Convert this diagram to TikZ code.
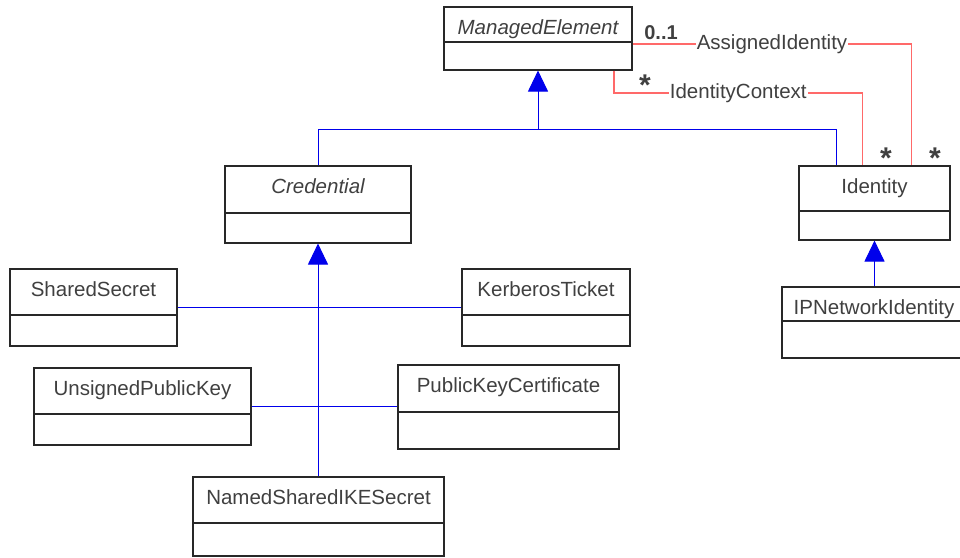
\documentclass[tikz,border=0pt]{standalone}
\usepackage{fontspec}
\setmainfont{Liberation Sans}
\usepackage{tikz}
\usetikzlibrary{arrows.meta, positioning, fit}
\definecolor{umlgray}{RGB}{64, 64, 64}
\definecolor{umlline}{RGB}{40, 40, 40}
\definecolor{umlblue}{RGB}{0, 0, 235}
\definecolor{umlred}{RGB}{255, 105, 105}

\tikzset{
    classbox/.style={draw=umlline, line width=1.1pt, inner sep=0pt},
    classline/.style={umlline, line width=1.1pt},
    classname/.style={text=umlgray, inner sep=0pt, anchor=base, font=\fontsize{20.5}{24}\selectfont},
    genline/.style={umlblue, line width=1pt},
    genarrow/.style={-{Triangle[width=20pt, length=21pt]}},
    assoc/.style={umlred, line width=1.3pt},
    assoclabel/.style={fill=white, text=umlgray, inner sep=1pt, font=\fontsize{20.5}{24}\selectfont},
    mult/.style={text=umlgray, inner sep=0pt, font=\fontsize{20}{24}\selectfont\bfseries},
    multstar/.style={text=umlgray, inner sep=0pt, anchor=base, font=\fontsize{30}{30}\selectfont\bfseries}
}

\newcommand{\umlclass}[7]{%
    \node[classbox, fit={(#2,#3) (#4,#6)}] (#1) {};
    \draw[classline] (#1.west |- 0,#5) -- (#1.east |- 0,#5);
    \node[classname] (#1-title) at ({(#2+#4)/2},{#3+27}) {#7};
}

\begin{document}
\begin{tikzpicture}[x=1pt, y=-1pt]
                    \useasboundingbox (0,0) rectangle (960,557);
                    \umlclass{me}{444}{7}{632}{42}{70}{\itshape ManagedElement}
                    \umlclass{cred}{225}{166}{411}{213}{243}{\itshape Credential}
                    \umlclass{ident}{799}{166}{950}{211}{240}{Identity}
                    \umlclass{ipni}{782}{287}{966}{321}{358}{IPNetworkIdentity}
                    \umlclass{ss}{10}{269}{177}{315}{346}{SharedSecret}
                    \umlclass{kt}{462}{269}{630}{315}{346}{KerberosTicket}
                    \umlclass{upk}{34}{368}{251}{414}{445}{UnsignedPublicKey}
                    \umlclass{pkc}{398}{365}{619}{412}{449}{PublicKeyCertificate}
                    \umlclass{nsike}{193}{477}{444}{523}{556}{NamedSharedIKESecret}

                    \coordinate (gen-me) at (538,129);
                    \draw[genline] (cred.north) |- (gen-me);
                    \draw[genline] ([xshift=38pt]ident.north west) |- (gen-me);
                    \draw[genline, genarrow] (gen-me) -- (me.south);
                    \draw[genline, genarrow] (cred.south |- nsike.north) -- (cred.south);
                    \draw[genline] (ss.east) -- (kt.west);
                    \draw[genline] (upk.east) -- (upk.east -| pkc.west);
                    \draw[genline, genarrow] (ipni.north -| ident.south) -- (ident.south);

                    \draw[assoc] (me.east |- 0,44) -| node[assoclabel, pos=0.25] (ai-label) {AssignedIdentity} ([xshift=113pt]ident.north west);
                    \draw[assoc] (me.south -| 614,0) |- node[assoclabel, pos=0.75] (ic-label) {IdentityContext} ([xshift=64pt]ident.north west |- 0,93) -- ([xshift=64pt]ident.north west);
                    \node[mult] (ai-me) at (661,33) {0..1};
                    \node[multstar] (ic-me) at (645,95) {*};
                    \node[multstar] (ic-ident) at (886,168) {*};
                    \node[multstar] (ai-ident) at (935,168) {*};
                \end{tikzpicture}
\end{document}
